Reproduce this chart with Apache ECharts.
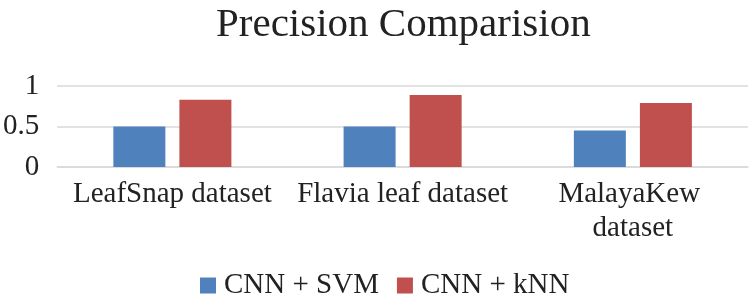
<!DOCTYPE html>
<html>
<head>
<meta charset="utf-8">
<script src="https://cdn.jsdelivr.net/npm/echarts@6/dist/echarts.min.js"></script>
<style>
  html, body { margin: 0; padding: 0; background: #fff; }
  #main { width: 750px; height: 301px; }
</style>
</head>
<body>
<div id="main"></div>
<script>
// data
const categories = ['LeafSnap dataset', 'Flavia leaf dataset', 'MalayaKew dataset'];
const svmValues = [0.5, 0.5, 0.45];
const knnValues = [0.83, 0.89, 0.79];
const seriesNames = ['CNN + SVM', 'CNN + kNN'];

const font = 'Liberation Serif, Times New Roman, serif';
const textColor = '#222222';

const chart = echarts.init(document.getElementById('main'));

const option = {
  animation: false,
  title: {
    text: 'Precision Comparision',
    left: 211,
    top: 0,
    textStyle: { fontFamily: font, fontSize: 41, fontWeight: 'normal', color: textColor }
  },
  legend: {
    data: seriesNames,
    left: 195,
    top: 266,
    itemWidth: 16,
    itemHeight: 16,
    itemGap: 18,
    icon: 'rect',
    textStyle: { fontFamily: font, fontSize: 29, color: textColor, padding: [0, 0, 0, 3] }
  },
  grid: {
    left: 53,
    right: 2,
    top: 86,
    bottom: 134
  },
  xAxis: {
    type: 'category',
    data: categories,
    axisTick: { show: false },
    axisLine: { lineStyle: { color: '#D9D9D9', width: 1.5 } },
    axisLabel: {
      fontFamily: font,
      fontSize: 29,
      color: textColor,
      margin: 10,
      lineHeight: 34,
      width: 216,
      overflow: 'break',
      interval: 0
    }
  },
  yAxis: {
    type: 'value',
    min: 0,
    max: 1,
    interval: 0.5,
    axisLine: { show: false },
    axisTick: { show: false },
    splitLine: { lineStyle: { color: '#D9D9D9', width: 1.5 } },
    axisLabel: { fontFamily: font, fontSize: 29, color: textColor, margin: 18 }
  },
  series: [
    {
      name: seriesNames[0],
      type: 'bar',
      data: svmValues,
      barWidth: 52,
      barGap: '27%',
      itemStyle: { color: '#4F81BD' }
    },
    {
      name: seriesNames[1],
      type: 'bar',
      data: knnValues,
      barWidth: 52,
      itemStyle: { color: '#C0504D' }
    }
  ]
};

chart.setOption(option);
</script>
</body>
</html>
